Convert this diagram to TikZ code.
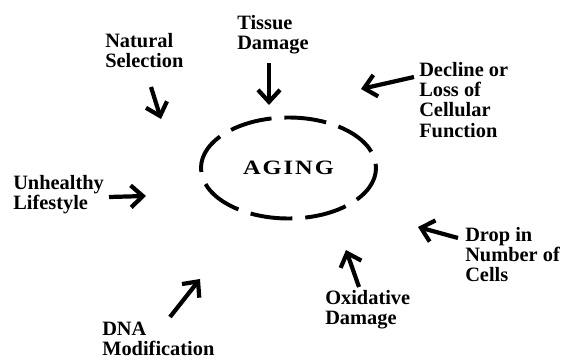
\documentclass[tikz,border=0pt]{standalone}
\usepackage{fontspec}
\setmainfont{Liberation Serif}
\newfontfamily\agingfont[LetterSpace=8]{Liberation Serif}
\usetikzlibrary{arrows.meta,shapes.geometric}

\begin{document}
\begin{tikzpicture}[
  cause/.style={line width=3pt,-{Straight Barb[length=3mm,width=5.5mm]}},
  factor/.style={anchor=north west,align=left,inner sep=0pt,
    font=\bfseries\fontsize{14.5}{14.4}\selectfont}]
\useasboundingbox (0,0) rectangle (14.275,9);
% centre
\node[draw,ellipse,line width=2.8pt,inner sep=0pt,
  minimum width=4.375cm,minimum height=2.525cm,
  dash pattern=on 30pt off 9.2pt,dash phase=27pt,
  font=\agingfont\bfseries\fontsize{14.5}{14.5}\selectfont] (aging) at (7.2125,4.8) {\scalebox{1.2}[1]{AGING}};
% causes
\node[factor] (tissue) at (5.925,8.625) {Tissue\\Damage};
\node[factor] (natural) at (2.625,8.175) {Natural\\Selection};
\node[factor] (decline) at (10.475,7.45) {Decline or\\Loss of\\Cellular\\Function};
\node[factor] (unhealthy) at (0.325,4.625) {Unhealthy\\Lifestyle};
\node[factor] (drop) at (11.625,3.325) {Drop in\\Number of\\Cells};
\node[factor] (oxidative) at (8.125,1.75) {Oxidative\\Damage};
\node[factor] (dna) at (2.55,0.96) {DNA\\Modification};
% arrow ends
\coordinate (tissue tail) at (6.725,7.425);
\coordinate (tissue tip) at (6.725,6.375);
\coordinate (natural tail) at (3.775,6.825);
\coordinate (natural tip) at (4.025,6.025);
\coordinate (decline tail) at (10.35,7.075);
\coordinate (decline tip) at (9.025,6.775);
\coordinate (unhealthy tail) at (2.725,4.075);
\coordinate (unhealthy tip) at (3.65,4.1);
\coordinate (drop tail) at (11.45,3.05);
\coordinate (drop tip) at (10.45,3.325);
\coordinate (oxidative tail) at (8.975,1.825);
\coordinate (oxidative tip) at (8.65,2.75);
\coordinate (dna tail) at (4.25,1.075);
\coordinate (dna tip) at (5.0,2.025);
\draw[cause] (tissue tail) -- (tissue tip);
\draw[cause] (natural tail) -- (natural tip);
\draw[cause] (decline tail) -- (decline tip);
\draw[cause] (unhealthy tail) -- (unhealthy tip);
\draw[cause] (drop tail) -- (drop tip);
\draw[cause] (oxidative tail) -- (oxidative tip);
\draw[cause] (dna tail) -- (dna tip);
\end{tikzpicture}
\end{document}
